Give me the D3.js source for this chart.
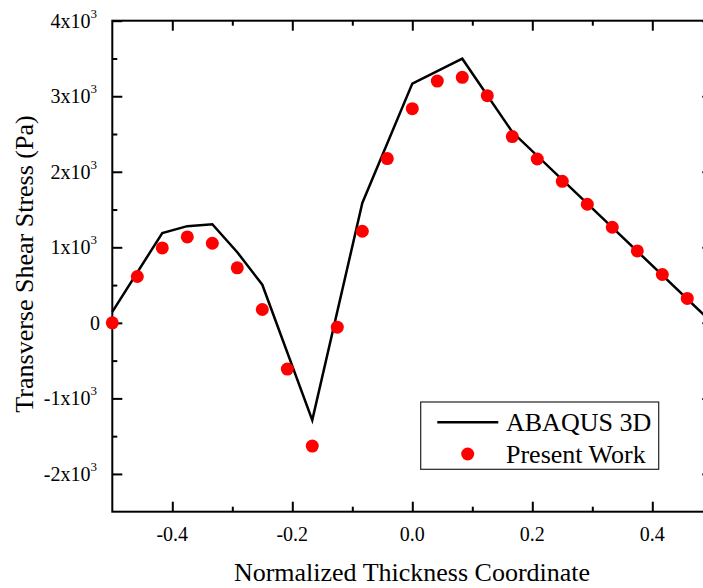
<!DOCTYPE html>
<html><head><meta charset="utf-8">
<script src="https://cdn.jsdelivr.net/npm/d3@7"></script>
<style>html,body{margin:0;padding:0;background:#fff;overflow:hidden}</style>
</head><body><svg id="chart" width="703" height="588"></svg>
<script>
// ---- data ----
const abaqusX = [-0.5, -0.4167, -0.375, -0.3333, -0.2917, -0.25, -0.1667, -0.0833, 0, 0.0833, 0.1667, 0.5];
const abaqusY = [145, 1190, 1280, 1306, 935, 505, -1287, 1587, 3167, 3497, 2526, 0];
const presentX = [-0.5, -0.4583, -0.4167, -0.375, -0.3333, -0.2917, -0.25, -0.2083, -0.1667, -0.125, -0.0833, -0.0417,
                  0, 0.0417, 0.0833, 0.125, 0.1667, 0.2083, 0.25, 0.2917, 0.3333, 0.375, 0.4167, 0.4583];
const presentY = [0, 614, 992, 1138, 1054, 728, 177, -612, -1631, -57, 1213, 2175,
                  2836, 3201, 3250, 3008, 2466, 2169, 1874, 1570, 1266, 952, 640, 323];
const xTicksMajor = [-0.4, -0.2, 0, 0.2, 0.4];
const xTickLabels = ["-0.4", "-0.2", "0.0", "0.2", "0.4"];
const xTicksMinor = [-0.5, -0.3, -0.1, 0.1, 0.3];
const yTicksMajor = [-2000, -1000, 0, 1000, 2000, 3000, 4000];
const yTickMantissa = ["-2", "-1", "0", "1", "2", "3", "4"];
const yTickExponent = ["3", "3", "", "3", "3", "3", "3"];
const yTicksMinor = [-1500, -500, 500, 1500, 2500, 3500];
const seriesNames = ["ABAQUS 3D", "Present Work"];
const xTitle = "Normalized Thickness Coordinate";
const yTitle = "Transverse Shear Stress (Pa)";

// ---- layout ----
const svg = d3.select("#chart");
const font = "'Liberation Serif','Times New Roman',serif";
const L = 112.3, R = 712.3, T = 20.7, B = 511.7;
const x = d3.scaleLinear().domain([-0.5, 0.5]).range([L, R]);
const y = d3.scaleLinear().domain([-2500, 4000]).range([B, T]);

const axesG = svg.append("g");
function tickAxis(axisFn, scale, vals, size, transform) {
  const g = axesG.append("g").attr("transform", transform)
    .call(axisFn(scale).tickValues(vals).tickSize(size).tickFormat(""));
  g.select(".domain").remove();
  g.selectAll(".tick line").attr("stroke", "#000").attr("stroke-width", 2);
  return g;
}
// bottom / top
tickAxis(d3.axisBottom, x, xTicksMajor, -10, `translate(0,${B})`);
tickAxis(d3.axisBottom, x, xTicksMinor.filter(v => v > -0.5), -5, `translate(0,${B})`);
tickAxis(d3.axisTop, x, xTicksMajor, -10, `translate(0,${T})`);
tickAxis(d3.axisTop, x, xTicksMinor.filter(v => v > -0.5), -5, `translate(0,${T})`);
// left / right
tickAxis(d3.axisLeft, y, yTicksMajor, -10, `translate(${L},0)`);
tickAxis(d3.axisLeft, y, yTicksMinor, -5, `translate(${L},0)`);
tickAxis(d3.axisRight, y, yTicksMajor, -10, `translate(${R},0)`);
tickAxis(d3.axisRight, y, yTicksMinor, -5, `translate(${R},0)`);
// frame
axesG.append("rect").attr("x", L).attr("y", T).attr("width", R - L).attr("height", B - T)
  .attr("fill", "none").attr("stroke", "#000").attr("stroke-width", 2);

// x tick labels
axesG.selectAll("text.xl").data(xTicksMajor).join("text").attr("class", "xl")
  .attr("x", d => x(d)).attr("y", 541).attr("text-anchor", "middle")
  .attr("font-family", font).attr("font-size", 20).attr("fill", "#000")
  .text((d, i) => xTickLabels[i]);
// y tick labels
const yl = axesG.selectAll("text.yl").data(yTicksMajor).join("text").attr("class", "yl")
  .attr("x", d => yTickExponent[yTicksMajor.indexOf(d)] ? 97 : 100).attr("y", d => y(d) + 7)
  .attr("text-anchor", "end").attr("font-family", font).attr("font-size", 20).attr("fill", "#000");
yl.each(function(d, i) {
  const t = d3.select(this);
  if (yTickExponent[i]) {
    t.append("tspan").text(yTickMantissa[i] + "x10");
    t.append("tspan").attr("dy", -10).attr("font-size", 13).text(yTickExponent[i]);
  } else {
    t.text(yTickMantissa[i]);
  }
});

// titles
svg.append("text").attr("x", (L + 712.3) / 2 - 0.3).attr("y", 580.5).attr("text-anchor", "middle")
  .attr("font-family", font).attr("font-size", 26).attr("fill", "#000").text(xTitle);
svg.append("text").attr("transform", `translate(33,264) rotate(-90)`).attr("text-anchor", "middle")
  .attr("font-family", font).attr("font-size", 26).attr("fill", "#000").text(yTitle);

// data
const lineData = abaqusX.map((v, i) => [v, abaqusY[i]]);
svg.append("path").datum(lineData)
  .attr("d", d3.line().x(d => x(d[0])).y(d => y(d[1])))
  .attr("fill", "none").attr("stroke", "#000").attr("stroke-width", 2.5).attr("stroke-linejoin", "miter");
svg.append("g").selectAll("circle").data(presentX.map((v, i) => [v, presentY[i]])).join("circle")
  .attr("cx", d => x(d[0])).attr("cy", d => y(d[1])).attr("r", 6.5).attr("fill", "#ff0000");

// legend
const lg = svg.append("g");
lg.append("rect").attr("x", 420.7).attr("y", 402).attr("width", 238).attr("height", 67.3)
  .attr("fill", "#fff").attr("stroke", "#222").attr("stroke-width", 1.2);
lg.append("line").attr("x1", 437.3).attr("x2", 498.3).attr("y1", 422.3).attr("y2", 422.3)
  .attr("stroke", "#000").attr("stroke-width", 2.5);
lg.append("circle").attr("cx", 467.7).attr("cy", 454).attr("r", 6.5).attr("fill", "#ff0000");
lg.selectAll("text").data(seriesNames).join("text")
  .attr("x", 506).attr("y", (d, i) => i === 0 ? 431 : 463)
  .attr("font-family", font).attr("font-size", 26).attr("fill", "#000").text(d => d);
</script></body></html>
